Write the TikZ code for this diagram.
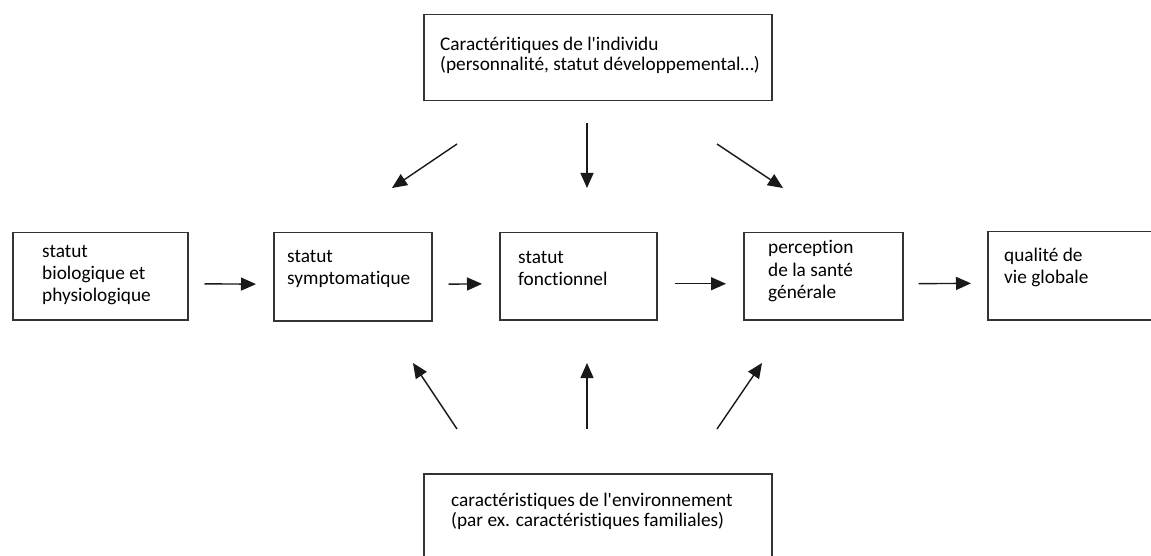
\documentclass[tikz,border=0pt]{standalone}
\usepackage{fontspec}
\defaultfontfeatures[\rmfamily]{}
\setmainfont{Carlito}[Ligatures={NoCommon}]
\usepackage{tikz}
\usetikzlibrary{arrows.meta,positioning}

\begin{document}
\begin{tikzpicture} [x=1pt, y=-1pt, >={Triangle[length=15pt,width=13pt]},
	   every node/.style={font=\fontsize{19.3}{22}\selectfont},
	   box/.style = {rectangle, draw=black!80, line width=1.5pt, anchor=north west,
	                 inner sep=0pt},
	   txt/.style = {anchor=base west, align=left, inner sep=0pt},
	   tighttxt/.style = {txt, font=\fontsize{19.3}{20}\selectfont},
	   link/.style = {->, line width=1.4pt, black!90}]
	\useasboundingbox (0,0) rectangle (1151,556);
	\clip (0,0) rectangle (1151,556);

	%% Boxes
	\node [box, minimum width=348pt, minimum height=86pt] (indiv) at (423,14) {};
	\node [box, minimum width=175pt, minimum height=87pt] (bio) at (12,232) {};
	\node [box, minimum width=158pt, minimum height=88pt] (symp) at (273,232) {};
	\node [box, minimum width=157pt, minimum height=87pt] (fonc) at (499,232) {};
	\node [box, minimum width=159pt, minimum height=87pt] (perc) at (743,232) {};
	\node [box, minimum width=175pt, minimum height=88pt] (qual) at (987,231) {};
	\node [box, minimum width=348pt, minimum height=130pt] (env) at (423,473) {};

	%% Texts (base = last line)
	\node [tighttxt] (indiv-t) at (440,71) {Caractéritiques de l'individu\\(personnalité, statut développemental…)};
	\node [txt] (bio-t) at (42,301) {statut\\biologique et\\physiologique};
	\node [txt] (symp-t) at (287,284) {statut\\symptomatique};
	\node [txt] (fonc-t) at (518,285) {statut\\fonctionnel};
	\node [txt] (perc-t) at (768,298) {perception\\de la santé\\générale};
	\node [txt] (qual-t) at (1004,283) {qualité de\\vie globale};
	\node [tighttxt] (env-t) at (451,526) {caractéristiques de l'environnement\\(par ex. caractéristiques familiales)};

	%% Chain
	\draw [link, shorten <=16pt, shorten >=17pt] ([yshift=-7.5pt]bio.east) -- ([yshift=-7.5pt]symp.west);
	\draw [link, shorten <=16pt, shorten >=17pt] ([yshift=-7.5pt]symp.east) -- ([yshift=-7.5pt]fonc.west);
	\draw [link, shorten <=17pt, shorten >=17pt] ([yshift=-7.5pt]fonc.east) -- ([yshift=-7.5pt]perc.west);
	\draw [link, shorten <=15pt, shorten >=16pt] ([yshift=-7.5pt]perc.east) -- ([yshift=-7.5pt]qual.west);

	%% Influences from above
	\coordinate (in-l) at (457,144);  \coordinate (in-l-e) at (392,188);
	\coordinate (in-m) at (587,123);  \coordinate (in-m-e) at (587,188);
	\coordinate (in-r) at (717,144);  \coordinate (in-r-e) at (783,188);
	\draw [link] (in-l) -- (in-l-e);
	\draw [link] (in-m) -- (in-m-e);
	\draw [link] (in-r) -- (in-r-e);

	%% Influences from below
	\coordinate (env-l) at (457,429);  \coordinate (env-l-e) at (413,363);
	\coordinate (env-m) at (587,429);  \coordinate (env-m-e) at (587,363);
	\coordinate (env-r) at (717,429);  \coordinate (env-r-e) at (762,363);
	\draw [link] (env-l) -- (env-l-e);
	\draw [link] (env-m) -- (env-m-e);
	\draw [link] (env-r) -- (env-r-e);
\end{tikzpicture}
\end{document}
